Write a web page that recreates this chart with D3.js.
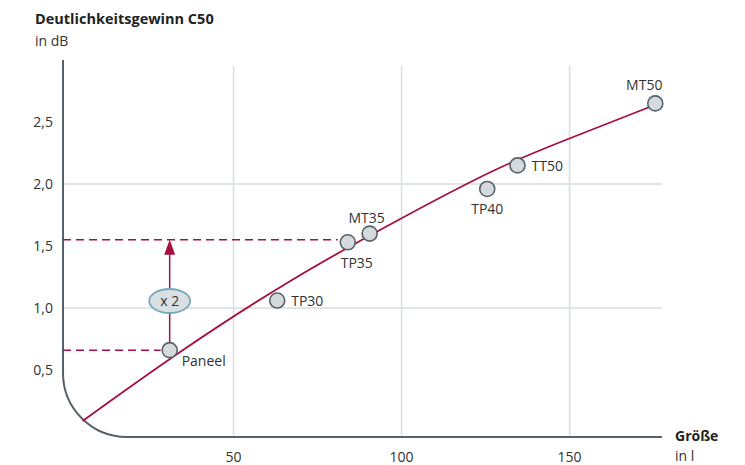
<!DOCTYPE html>
<html>
<head>
<meta charset="utf-8">
<script src="https://cdn.jsdelivr.net/npm/d3@7"></script>
<style>
  body { margin: 0; background: #fff; }
  svg text { font-family: "Open Sans", "Noto Sans", sans-serif; fill: #333; }
</style>
</head>
<body>
<svg id="chart" width="745" height="465"></svg>
<script>
// speakers: size in litres, clarity gain C50 in dB
const names = ["Paneel", "TP30", "TP35", "MT35", "TP40", "TT50", "MT50"]
const litres = [31, 63, 84, 90.5, 125.5, 134.5, 175.5]
const gains = [0.66, 1.06, 1.53, 1.60, 1.96, 2.15, 2.65]

// fitted trend curve
const curveX = [5.1, 34.1, 67.4, 99.6, 127.8, 150.7, 175.7]
const curveY = [0.089, 0.645, 1.226, 1.718, 2.113, 2.375, 2.641]

const doubledGain = 1.55
const xTicks = [50, 100, 150]
const yTicks = [0.5, 1.0, 1.5, 2.0, 2.5]
const xGrid = [50, 100, 150]
const yGrid = [1.0, 2.0]

let width = 745
let height = 465
let svg = d3.select("#chart")

let axisColor = "#56626a"
let gridColor = "#d6dde3"
let red = "#a5103c"

let x = d3.scaleLinear()
    .domain([0, 177.5])
    .range([65.5, 662])

let y = d3.scaleLinear()
    .domain([0, 3])
    .range([432, 60])

let de = d3.formatLocale({ decimal: ",", thousands: ".", grouping: [3], currency: ["", " €"] })
let fmt = de.format(".1f")

let axisX = 63
let axisY = 437

// gridlines
svg.append("g")
  .selectAll("line")
  .data(xGrid)
  .join("line")
  .attr("x1", d => x(d))
  .attr("x2", d => x(d))
  .attr("y1", 66)
  .attr("y2", axisY)
  .style("stroke", gridColor)
  .style("stroke-width", "1.5px")

svg.append("g")
  .selectAll("line")
  .data(yGrid)
  .join("line")
  .attr("x1", axisX)
  .attr("x2", 662)
  .attr("y1", d => y(d))
  .attr("y2", d => y(d))
  .style("stroke", gridColor)
  .style("stroke-width", "1.5px")

// rounded L-shaped axis
let r = 64
svg.append("path")
  .attr("d", `M${axisX},60 V${axisY - r} A${r},${r} 0 0 0 ${axisX + r},${axisY} H662`)
  .style("fill", "none")
  .style("stroke", axisColor)
  .style("stroke-width", "2px")

// tick labels
svg.append("g")
  .selectAll("text")
  .data(yTicks)
  .join("text")
  .attr("x", 53)
  .attr("y", d => y(d) + 5)
  .attr("text-anchor", "end")
  .style("font-size", "14px")
  .text(d => fmt(d))

svg.append("g")
  .selectAll("text")
  .data(xTicks)
  .join("text")
  .attr("x", d => x(d))
  .attr("y", 462)
  .attr("text-anchor", "middle")
  .style("font-size", "14px")
  .text(d => d)

// axis titles
svg.append("text")
  .attr("x", 35)
  .attr("y", 24)
  .style("font-size", "14.5px")
  .style("font-weight", "bold")
  .style("fill", "#222")
  .text("Deutlichkeitsgewinn C50")

svg.append("text")
  .attr("x", 35)
  .attr("y", 46)
  .style("font-size", "14px")
  .text("in dB")

svg.append("text")
  .attr("x", 675)
  .attr("y", 441)
  .style("font-size", "14px")
  .style("font-weight", "bold")
  .style("fill", "#222")
  .text("Größe")

svg.append("text")
  .attr("x", 675)
  .attr("y", 461)
  .style("font-size", "14px")
  .text("in l")

// dashed reference lines
let paneelIdx = 0
let tp35Idx = 2
svg.append("line")
  .attr("x1", axisX)
  .attr("x2", x(litres[paneelIdx]) - 9)
  .attr("y1", y(gains[paneelIdx]))
  .attr("y2", y(gains[paneelIdx]))
  .style("stroke", red)
  .style("stroke-width", "1.5px")
  .style("stroke-dasharray", "8,5")

svg.append("line")
  .attr("x1", axisX)
  .attr("x2", x(litres[tp35Idx]) - 10)
  .attr("y1", y(doubledGain))
  .attr("y2", y(doubledGain))
  .style("stroke", red)
  .style("stroke-width", "1.5px")
  .style("stroke-dasharray", "8,5")

// trend curve
let pts = curveX.map((d, i) => [d, curveY[i]])
let line = d3.line()
    .x(d => x(d[0]))
    .y(d => y(d[1]))
    .curve(d3.curveNatural)

svg.append("path")
  .attr("d", line(pts))
  .style("fill", "none")
  .style("stroke", red)
  .style("stroke-width", "1.8px")

// doubling arrow
let ax = x(litres[paneelIdx])
let tipY = y(doubledGain)
svg.append("line")
  .attr("x1", ax)
  .attr("x2", ax)
  .attr("y1", y(gains[paneelIdx]) - 8)
  .attr("y2", tipY + 12)
  .style("stroke", red)
  .style("stroke-width", "1.5px")

svg.append("path")
  .attr("d", `M${ax},${tipY} L${ax - 5.5},${tipY + 15} L${ax + 5.5},${tipY + 15} Z`)
  .style("fill", red)

let midY = y((gains[paneelIdx] + doubledGain) / 2) + 6
svg.append("ellipse")
  .attr("cx", ax)
  .attr("cy", midY)
  .attr("rx", 20.5)
  .attr("ry", 12)
  .style("fill", "#d9dfe2")
  .style("stroke", "#74a9be")
  .style("stroke-width", "1.8px")

svg.append("text")
  .attr("x", ax)
  .attr("y", midY + 5)
  .attr("text-anchor", "middle")
  .style("font-size", "14px")
  .text("x 2")

// points
let data = names.map((n, i) => ({ name: n, litres: litres[i], gain: gains[i] }))

svg.append("g")
  .selectAll("circle")
  .data(data)
  .join("circle")
  .attr("cx", d => x(d.litres))
  .attr("cy", d => y(d.gain))
  .attr("r", 7.5)
  .style("fill", "#d5dade")
  .style("stroke", "#56626a")
  .style("stroke-width", "1.6px")

// label placement: [dx, dy, anchor]
let labelPos = {
  "Paneel": [12, 16, "start"],
  "TP30": [14, 5, "start"],
  "TP35": [9, 26, "middle"],
  "MT35": [-3, -11, "middle"],
  "TP40": [0, 25, "middle"],
  "TT50": [14, 6, "start"],
  "MT50": [-11, -13, "middle"]
}

svg.append("g")
  .selectAll("text")
  .data(data)
  .join("text")
  .attr("x", d => x(d.litres) + labelPos[d.name][0])
  .attr("y", d => y(d.gain) + labelPos[d.name][1])
  .attr("text-anchor", d => labelPos[d.name][2])
  .style("font-size", "14px")
  .text(d => d.name)
</script>
</body>
</html>
